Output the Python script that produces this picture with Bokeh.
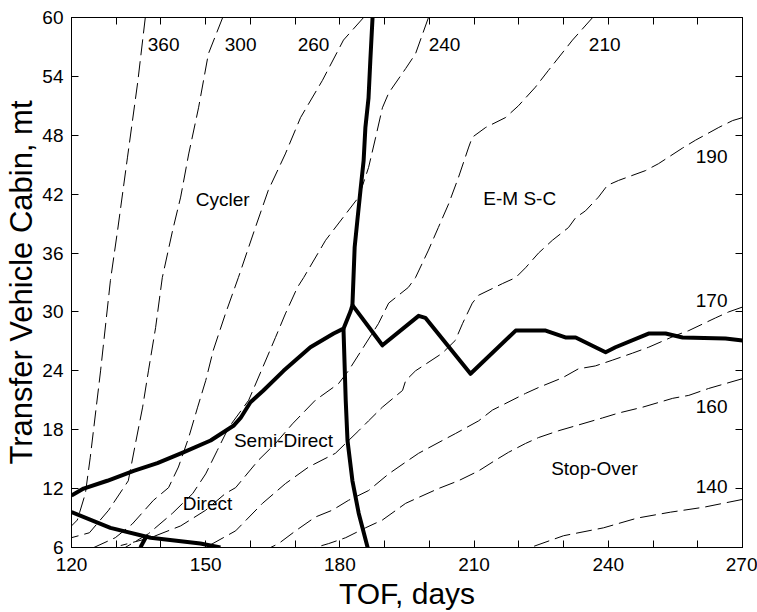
from bokeh.plotting import figure
from bokeh.models import LinearAxis, FixedTicker, Range1d
from bokeh.core.properties import value
from bokeh.embed import file_html
from bokeh.resources import INLINE

FONT = "Liberation Sans"

# ---- axis ticks ----
x_major = [120, 150, 180, 210, 240, 270]
x_minor = [130, 140, 160, 170, 190, 200, 220, 230, 250, 260]
y_major = [6, 12, 18, 24, 30, 36, 42, 48, 54, 60]

# ---- dashed contour lines (TOF days, cabin mt) ----
c360_x = [136.5, 134.8, 132.5, 130.3, 128.7, 126.5, 124.2, 123.1, 121.3, 120.0]
c360_y = [60.0, 53.4, 45.7, 38.3, 33.2, 24.0, 15.2, 11.5, 8.8, 8.2]

c300_x = [153.8, 150.6, 148.4, 146.2, 144.4, 142.6, 140.3, 138.8, 137.2, 135.9, 134.3, 132.7, 128.3, 124.0, 120.0]
c300_y = [60.0, 56.3, 50.8, 46.1, 41.7, 38.3, 33.5, 28.4, 24.0, 20.3, 16.6, 12.8, 9.8, 7.5, 7.0]

c260_x = [185.3, 180.8, 176.1, 171.2, 167.8, 164.0, 161.1, 157.3, 154.4, 151.7, 150.0, 148.2, 146.2, 143.9, 141.7, 138.3, 133.6, 129.8, 125.0]
c260_y = [60.0, 57.7, 53.6, 49.8, 46.1, 42.4, 38.6, 33.5, 29.8, 26.1, 23.0, 20.3, 17.2, 14.2, 12.1, 10.8, 8.4, 7.0, 6.0]

c240_x = [199.8, 196.9, 194.7, 190.9, 189.5, 188.0, 186.4, 184.2, 176.8, 171.9, 170.5, 167.8, 165.6, 162.7, 159.6, 155.1, 152.6, 150.0, 147.1, 142.6, 137.2, 132.0]
c240_y = [60.0, 56.3, 54.8, 52.3, 50.8, 47.8, 44.7, 41.7, 37.3, 33.5, 32.5, 29.8, 27.4, 24.3, 21.0, 18.2, 15.9, 13.5, 11.5, 9.5, 7.4, 6.0]

c210_x = [236.5, 232.0, 226.6, 223.7, 219.9, 217.0, 212.6, 209.6, 208.8, 206.5, 204.3, 202.0, 199.8, 196.9, 195.3, 190.9, 188.6, 181.9, 179.7, 174.5, 169.4, 165.6, 161.8, 156.7, 154.4, 150.0, 144.4, 137.7, 131.0]
c210_y = [60.0, 57.7, 54.6, 52.9, 51.0, 49.8, 48.8, 47.8, 46.8, 43.7, 41.0, 38.6, 36.3, 33.5, 32.5, 30.9, 28.8, 24.0, 22.7, 21.0, 18.6, 16.6, 14.9, 12.1, 11.5, 9.8, 8.2, 7.0, 6.2]

c190_x = [270.0, 267.8, 264.7, 259.5, 256.6, 251.2, 248.3, 242.3, 239.8, 237.8, 234.9, 232.7, 231.1, 227.5, 224.4, 221.5, 219.3, 216.4, 211.0, 209.6, 207.4, 205.8, 202.9, 196.9, 194.7, 194.0, 189.5, 186.4, 184.2, 179.0, 173.0, 167.8, 162.7, 158.2, 156.7, 150.0]
c190_y = [49.8, 49.5, 48.8, 47.5, 46.7, 45.1, 44.4, 43.4, 42.9, 41.7, 40.3, 39.6, 38.6, 37.3, 36.0, 34.5, 33.5, 32.9, 31.7, 30.9, 28.8, 27.1, 25.8, 24.0, 23.0, 22.0, 20.3, 18.9, 17.9, 15.6, 14.2, 12.5, 10.5, 8.4, 7.7, 6.0]

c170_x = [270.0, 266.9, 264.0, 258.0, 255.0, 249.0, 245.4, 241.0, 237.1, 233.3, 229.8, 224.4, 221.5, 214.1, 211.0, 205.8, 202.9, 197.6, 194.7, 190.9, 186.4, 181.9, 178.3, 174.5, 170.1, 166.3, 164.5]
c170_y = [30.5, 30.0, 29.4, 28.1, 27.6, 26.4, 25.8, 25.1, 24.5, 24.2, 23.3, 22.3, 21.7, 20.0, 18.9, 17.6, 16.9, 15.6, 14.7, 13.5, 11.8, 10.8, 9.8, 9.1, 7.7, 6.4, 6.0]

c160_x = [270.0, 262.4, 258.0, 254.4, 247.7, 242.3, 238.7, 232.7, 228.9, 224.4, 221.5, 217.7, 214.8, 211.0, 206.5, 202.0, 197.6, 194.7, 189.5, 185.7, 181.3, 177.5, 174.5]
c160_y = [23.2, 22.2, 21.5, 21.2, 20.3, 19.7, 19.2, 18.4, 17.9, 17.2, 16.6, 15.7, 14.9, 13.8, 12.8, 12.0, 11.1, 10.5, 8.8, 8.0, 7.0, 6.4, 6.0]

c140_x = [270.0, 261.3, 253.9, 246.5, 238.9, 230.0, 222.6]
c140_y = [10.9, 10.1, 9.6, 9.0, 8.0, 7.2, 6.0]

contours = [(c360_x, c360_y), (c300_x, c300_y), (c260_x, c260_y), (c240_x, c240_y),
            (c210_x, c210_y), (c190_x, c190_y), (c170_x, c170_y), (c160_x, c160_y),
            (c140_x, c140_y)]

# ---- thick architecture boundaries ----
b_upper_x = [120.0, 122.7, 128.0, 133.9, 139.2, 145.0, 151.1, 156.2, 157.8, 160.0, 162.9, 167.4, 173.4, 178.6, 180.8, 182.4, 182.8]
b_upper_y = [11.3, 12.0, 12.8, 13.8, 14.6, 15.7, 16.9, 18.4, 19.2, 20.8, 22.0, 24.0, 26.4, 27.8, 28.3, 30.1, 30.7]

b_vert_low_x = [180.8, 181.3, 181.7, 182.8, 184.2, 186.2]
b_vert_low_y = [28.3, 21.0, 16.9, 12.8, 9.5, 6.0]

b_vert_up_x = [182.8, 183.3, 183.9, 184.6, 185.3, 185.7, 186.4, 186.8, 187.3]
b_vert_up_y = [30.7, 36.6, 39.3, 42.4, 45.4, 48.8, 51.8, 55.6, 60.0]

b_mid_x = [182.8, 189.5, 197.6, 199.1, 209.2, 219.3, 226.0, 230.4, 232.7, 239.4, 241.6, 249.0, 252.8, 256.6, 266.2, 270.0]
b_mid_y = [30.7, 26.6, 29.6, 29.4, 23.7, 28.1, 28.1, 27.4, 27.4, 25.9, 26.4, 27.8, 27.8, 27.4, 27.3, 27.1]

b_low_x = [120.0, 128.7, 137.7, 148.8, 153.3]
b_low_y = [9.6, 8.0, 7.0, 6.4, 6.0]

b_stub_x = [135.4, 136.8]
b_stub_y = [6.0, 7.2]

boundaries = [(b_upper_x, b_upper_y), (b_vert_low_x, b_vert_low_y), (b_vert_up_x, b_vert_up_y),
              (b_mid_x, b_mid_y), (b_low_x, b_low_y), (b_stub_x, b_stub_y)]

# ---- labels ----
region_text = ["Cycler", "E-M S-C", "Semi-Direct", "Direct", "Stop-Over"]
region_x = [153.8, 220.2, 167.4, 150.4, 236.9]
region_y = [41.5, 41.6, 16.9, 10.5, 14.0]

level_text = ["360", "300", "260", "240", "210", "190", "170", "160", "140"]
level_x = [140.6, 157.8, 174.1, 203.4, 239.2, 263.1, 263.1, 263.1, 263.1]
level_y = [57.3, 57.3, 57.3, 57.3, 57.3, 45.8, 31.2, 20.4, 12.2]

p = figure(width=757, height=612, x_range=Range1d(120, 270), y_range=Range1d(6, 60),
           output_backend="svg", toolbar_location=None,
           min_border_left=71, min_border_right=15, min_border_top=17, min_border_bottom=65,
           x_axis_label="TOF, days", y_axis_label="Transfer Vehicle Cabin, mt")
p.grid.visible = False
p.outline_line_color = "black"
p.outline_line_width = 1
p.background_fill_color = "white"
p.border_fill_color = "white"

xt = FixedTicker(ticks=x_major, minor_ticks=x_minor)
yt = FixedTicker(ticks=y_major, minor_ticks=[])
# tick marks only (no labels) for the top and right frame edges
xt_marks = FixedTicker(ticks=[], minor_ticks=x_major + x_minor)
yt_marks = FixedTicker(ticks=[], minor_ticks=y_major)

def style_axis(ax, ticker):
    ax.ticker = ticker
    ax.axis_line_color = "black"
    ax.major_tick_in = 7
    ax.major_tick_out = 0
    ax.minor_tick_in = 7
    ax.minor_tick_out = 0
    ax.major_tick_line_color = "black"
    ax.minor_tick_line_color = "black"
    ax.major_label_text_font = FONT
    ax.major_label_text_color = "black"
    ax.major_label_text_font_size = "19px"
    ax.axis_label_text_font = FONT
    ax.axis_label_text_font_style = "normal"
    ax.axis_label_text_color = "black"

style_axis(p.xaxis[0], xt)
style_axis(p.yaxis[0], yt)
p.xaxis[0].axis_label_text_font_size = "30px"
p.yaxis[0].axis_label_text_font_size = "31px"
p.xaxis[0].major_label_standoff = 10
p.xaxis[0].axis_label_standoff = 3
p.yaxis[0].major_label_standoff = 8
p.yaxis[0].axis_label_standoff = 0

top = LinearAxis()
style_axis(top, xt_marks)
top.major_label_standoff = 0
p.add_layout(top, "above")
right = LinearAxis()
style_axis(right, yt_marks)
right.major_label_standoff = 0
p.add_layout(right, "right")

for cx, cy in contours:
    p.line(cx, cy, line_color="black", line_width=1, line_dash="16 6")

for bx, by in boundaries:
    p.line(bx, by, line_color="black", line_width=4, line_join="round")

p.text(x=region_x, y=region_y, text=region_text, text_font=value(FONT), text_font_size="19px",
       text_align="center", text_baseline="middle", text_color="black")
p.text(x=level_x, y=level_y, text=level_text, text_font=value(FONT), text_font_size="19px",
       text_align="center", text_baseline="middle", text_color="black")

open("out.html", "w").write(file_html(p, INLINE))
